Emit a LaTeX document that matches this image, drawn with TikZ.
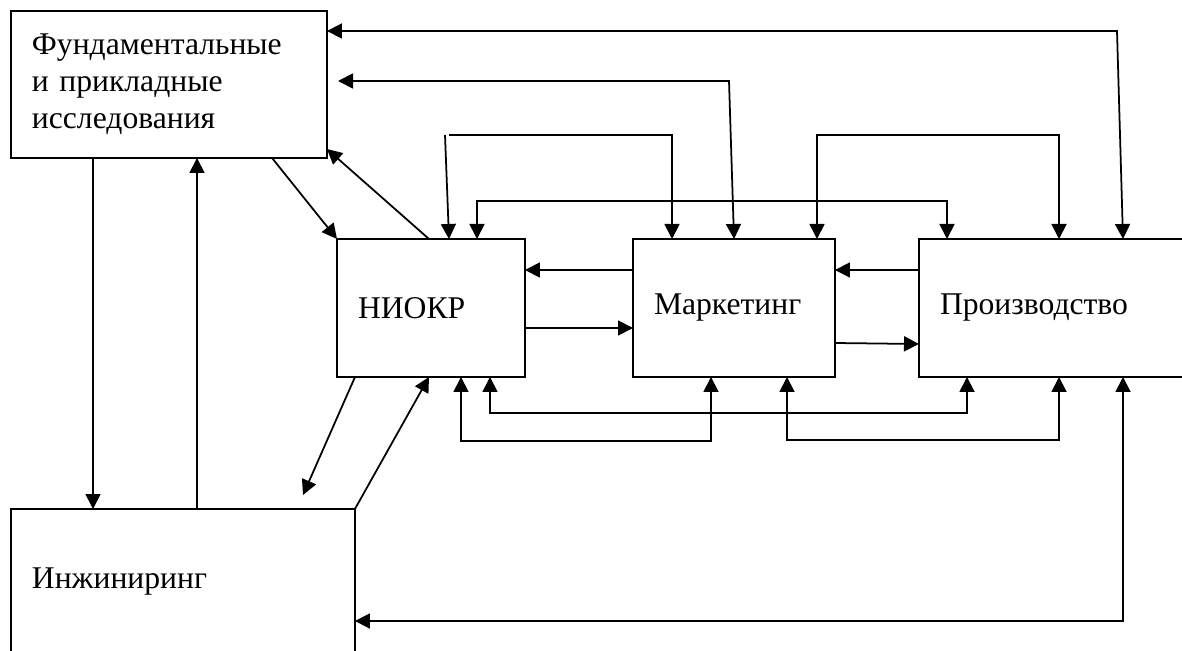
\documentclass[tikz,border=0pt]{standalone}
\usepackage{fontspec}
\setmainfont{Liberation Serif}
\usetikzlibrary{arrows.meta}
\tikzset{
  blok/.style={draw=black, line width=1pt, outer sep=0pt, anchor=north west, align=left, inner xsep=0.42cm, inner ysep=0pt, font=\fontsize{18}{21}\selectfont},
  arr/.style={-{Triangle[length=0.3cm,width=0.3cm]}, line width=1pt},
  arrr/.style={{Triangle[length=0.3cm,width=0.3cm]}-{Triangle[length=0.3cm,width=0.3cm]}, line width=1pt}
}
\begin{document}
\begin{tikzpicture}[x=0.02cm, y=-0.02cm]
\useasboundingbox (0,0) rectangle (1182,651);
\clip (0,0) rectangle (1182,651);
% boxes
\node[blok, minimum width=6.32cm, minimum height=2.94cm, text width=5.48cm] (fund) at (11,11) {Фундаментальные\\и прикладные\\исследования};
\node[blok, minimum width=3.76cm, minimum height=2.76cm, text width=2.92cm] (niokr) at (337,239) {НИОКР};
\node[blok, minimum width=4.04cm, minimum height=2.76cm, text width=3.20cm] (mark) at (633,239) {Маркетинг};
\node[blok, minimum width=5.80cm, minimum height=2.76cm, text width=4.96cm] (prod) at (919,239) {Производство};
\node[blok, minimum width=6.88cm, minimum height=2.92cm, text width=6.04cm] (eng) at (11,509) {Инжиниринг};
% research <-> engineering
\draw[arr] (fund.south -| 93,0) -- (eng.north -| 93,0);
\draw[arr] (eng.north -| 197,0) -- (fund.south -| 197,0);
% diagonals
\draw[arr] (fund.south -| 272,0) -- (niokr.north west);
\draw[arr] (niokr.north -| 429,0) -- (fund.east |- 0,149);
\coordinate (free) at (303,495);
\draw[arr] (niokr.south -| 355,0) -- (free);
\draw[arr] (eng.north east) -- (niokr.south -| 429,0);
% horizontal links between the three blocks
\draw[arr] (niokr.east |- 0,328) -- (mark.west |- 0,328);
\draw[arr] (mark.west |- 0,270) -- (niokr.east |- 0,270);
\draw[arr] (mark.east |- 0,343) -- (prod.west |- 0,344);
\draw[arr] (prod.west |- 0,270) -- (mark.east |- 0,270);
% loops above
\draw[arrr] (fund.east |- 0,31) -- (1117,31) -- (prod.north -| 1123,0);
\coordinate (gap) at (338,81);
\draw[arrr] (gap) -- (729,81) -- (mark.north -| 734,0);
\draw[arr] (445,135) -- (niokr.north -| 449,0);
\draw[arr] (449,135) -- (672,135) -- (mark.north -| 672,0);
\draw[arrr] (niokr.north -| 477,0) |- (947,201) -- (prod.north -| 947,0);
\draw[arrr] (mark.north -| 817,0) |- (1059,135) -- (prod.north -| 1059,0);
% loops below
\draw[arrr] (niokr.south -| 461,0) |- (711,441) -- (mark.south -| 711,0);
\draw[arrr] (niokr.south -| 490,0) |- (967,413) -- (prod.south -| 967,0);
\draw[arrr] (mark.south -| 787,0) |- (1059,440) -- (prod.south -| 1059,0);
\draw[arrr] (eng.east |- 0,621) -- (1123,621) -- (prod.south -| 1123,0);
\end{tikzpicture}
\end{document}
